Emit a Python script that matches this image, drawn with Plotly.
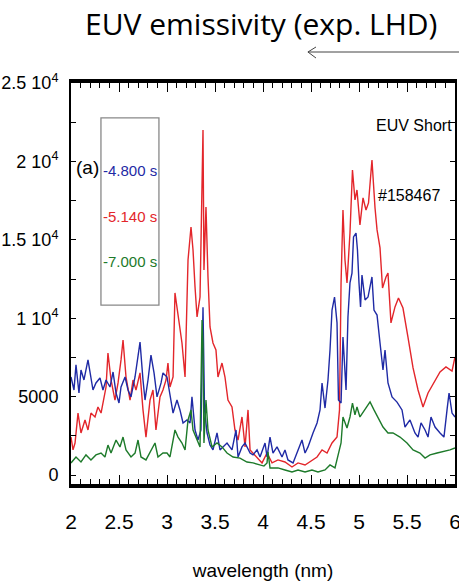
import plotly.graph_objects as go

# ---- spectra: wavelength (nm) and emissivity (a.u.) ----
wl_blue = [2.000, 2.031, 2.052, 2.083, 2.104, 2.135, 2.177, 2.208, 2.229, 2.260, 2.302, 2.333,
           2.365, 2.406, 2.438, 2.469, 2.500, 2.521, 2.563, 2.594, 2.625, 2.667, 2.719, 2.750,
           2.771, 2.802, 2.833, 2.865, 2.896, 2.938, 2.958, 3.000, 3.031, 3.063, 3.104, 3.135,
           3.167, 3.208, 3.240, 3.260, 3.292, 3.323, 3.354, 3.375, 3.391, 3.417, 3.448, 3.479,
           3.521, 3.552, 3.625, 3.677, 3.719, 3.740, 3.781, 3.813, 3.865, 3.896, 3.938, 3.969,
           4.021, 4.042, 4.073, 4.104, 4.146, 4.198, 4.229, 4.260, 4.313, 4.354, 4.406, 4.438,
           4.469, 4.521, 4.563, 4.594, 4.615, 4.646, 4.677, 4.698, 4.719, 4.745, 4.771, 4.786,
           4.813, 4.833, 4.865, 4.885, 4.906, 4.927, 4.943, 4.969, 4.984, 5.000, 5.016, 5.031,
           5.063, 5.094, 5.135, 5.156, 5.188, 5.219, 5.250, 5.271, 5.302, 5.344, 5.396, 5.448,
           5.479, 5.531, 5.583, 5.615, 5.646, 5.688, 5.719, 5.750, 5.792, 5.844, 5.885, 5.917,
           5.938, 5.969, 6.000]
em_blue = [6250, 5420, 7020, 5230, 6700, 6060, 7340, 6060, 5420, 5870, 6190, 5420,
           6060, 5610, 6570, 5230, 4590, 5610, 6250, 5420, 4980, 6250, 8480, 6060,
           4780, 6060, 7650, 6510, 4980, 5870, 6510, 6250, 4980, 3950, 4780, 4150,
           3320, 3510, 3320, 4980, 2870, 2230, 2870, 10700, 4150, 2680, 1910, 1600,
           2680, 1600, 2040, 1600, 2870, 1150, 1790, 2040, 1400, 1280, 1600, 1150,
           2040, 1150, 2420, 1400, 1790, 1150, 1600, 960, 770, 1400, 2230, 1400,
           1790, 2680, 3320, 4150, 5870, 4270, 6060, 7970, 10520, 11350, 9700, 4780,
           4590, 8800, 5420, 10080, 12250, 12880, 15180, 15430, 14350, 12250, 10720, 12750,
           11160, 11350, 12630, 10520, 10200, 8420, 6700, 7970, 5870, 4980, 4650, 4150,
           3060, 3510, 2680, 2420, 3320, 2870, 2420, 3700, 3060, 2680, 2420, 4150,
           5230, 3950, 3700]

wl_red = [2.000, 2.021, 2.042, 2.073, 2.104, 2.146, 2.177, 2.208, 2.250, 2.281, 2.313, 2.344,
          2.365, 2.385, 2.417, 2.458, 2.490, 2.521, 2.542, 2.573, 2.615, 2.646, 2.677, 2.719,
          2.750, 2.781, 2.823, 2.854, 2.885, 2.927, 2.958, 2.990, 3.010, 3.031, 3.063, 3.083,
          3.115, 3.156, 3.188, 3.219, 3.250, 3.271, 3.292, 3.313, 3.344, 3.365, 3.375, 3.385,
          3.406, 3.427, 3.448, 3.479, 3.510, 3.531, 3.573, 3.604, 3.635, 3.677, 3.708, 3.740,
          3.781, 3.813, 3.844, 3.865, 3.896, 3.938, 3.969, 3.990, 4.042, 4.094, 4.156, 4.229,
          4.302, 4.365, 4.438, 4.510, 4.563, 4.615, 4.667, 4.719, 4.771, 4.797, 4.813, 4.833,
          4.854, 4.875, 4.891, 4.906, 4.932, 4.958, 4.979, 5.010, 5.042, 5.073, 5.099, 5.135,
          5.167, 5.188, 5.219, 5.245, 5.281, 5.302, 5.333, 5.375, 5.411, 5.458, 5.510, 5.563,
          5.615, 5.667, 5.719, 5.781, 5.844, 5.906, 5.969, 6.000]
em_red = [2420, 1600, 2040, 3950, 2680, 3510, 2870, 3950, 3700, 4340, 3950, 4980,
          5610, 7780, 6060, 4780, 5870, 7340, 8610, 6250, 4780, 6060, 5420, 6510,
          4150, 2420, 4780, 5420, 2870, 4980, 5420, 6060, 7140, 5610, 6250, 11610,
          10080, 8420, 6250, 13710, 15820, 14350, 11990, 10080, 11350, 17990, 22000, 13080,
          17090, 12630, 9440, 8420, 7970, 6250, 7140, 6250, 4780, 4340, 2870, 2230,
          3700, 1790, 4150, 1600, 1400, 1150, 960, 770, 1400, 770, 960, 830,
          510, 770, 640, 960, 1150, 1600, 1400, 2040, 2420, 4150, 12250, 16900,
          13710, 12250, 13900, 15430, 19450, 17540, 18180, 15950, 17670, 16900, 17350, 20090,
          17030, 15630, 14480, 11930, 12630, 12880, 9700, 10720, 11290, 10650, 8800, 6830,
          5420, 4340, 5230, 5870, 6570, 6890, 6630, 7530]

wl_green = [2.000, 2.052, 2.104, 2.156, 2.208, 2.260, 2.313, 2.354, 2.385, 2.417, 2.469, 2.510,
            2.542, 2.573, 2.625, 2.667, 2.698, 2.729, 2.781, 2.833, 2.875, 2.906, 2.958, 3.000,
            3.031, 3.083, 3.115, 3.156, 3.188, 3.219, 3.250, 3.271, 3.313, 3.344, 3.365, 3.375,
            3.385, 3.406, 3.427, 3.469, 3.521, 3.573, 3.625, 3.688, 3.760, 3.833, 3.896, 3.969,
            4.010, 4.042, 4.052, 4.073, 4.156, 4.229, 4.302, 4.365, 4.438, 4.510, 4.573, 4.646,
            4.698, 4.750, 4.781, 4.813, 4.833, 4.875, 4.906, 4.932, 4.958, 4.979, 5.010, 5.063,
            5.115, 5.156, 5.198, 5.250, 5.302, 5.354, 5.427, 5.500, 5.563, 5.635, 5.688, 5.740,
            5.813, 5.875, 5.948, 6.000]
em_green = [770, 1150, 830, 1280, 960, 1280, 1400, 1150, 1910, 1400, 2230, 1790,
            2420, 1600, 1150, 1400, 2230, 1150, 960, 1600, 2040, 1150, 1400, 1400,
            1150, 2870, 2420, 2040, 1600, 3510, 4150, 2870, 2230, 1790, 9890, 8420,
            2040, 4780, 2870, 1790, 2040, 1790, 1400, 1150, 1080, 830, 770, 640,
            570, 770, 1470, 450, 450, 320, 190, 320, 190, 320, 190, 320,
            640, 450, 1150, 2040, 3700, 3000, 3700, 4590, 3830, 4340, 3700, 4150,
            4660, 4150, 3640, 3060, 2680, 2680, 2420, 2040, 1600, 1400, 1080, 1280,
            1400, 1470, 1600, 1720]

y_tick_vals = [0, 5000, 10000, 15000, 20000, 25000]
y_tick_text = ["0", "5000", "1 10<sup>4</sup>", "1.5 10<sup>4</sup>",
               "2 10<sup>4</sup>", "2.5 10<sup>4</sup>"]
x_tick_vals = [2, 2.5, 3, 3.5, 4, 4.5, 5, 5.5, 6]
x_tick_text = ["2", "2.5", "3", "3.5", "4", "4.5", "5", "5.5", "6"]

series = [
    ("5.140 s", wl_red, em_red, "#e3262b"),
    ("4.800 s", wl_blue, em_blue, "#1f2aa5"),
    ("7.000 s", wl_green, em_green, "#1d7a2a"),
]

SANS = "Liberation Sans, Arial, sans-serif"

fig = go.Figure()
for name, wl, em, col in series:
    fig.add_trace(go.Scatter(x=wl, y=em, mode="lines", name=name,
                             line=dict(color=col, width=1.4), showlegend=False))

fig.update_layout(
    width=459, height=587,
    margin=dict(l=71, r=4, t=83, b=103, autoexpand=False),
    paper_bgcolor="white", plot_bgcolor="white",
    font=dict(family=SANS, color="black"),
)

fig.update_xaxes(
    range=[2, 6], tickvals=x_tick_vals, ticktext=x_tick_text,
    ticks="inside", ticklen=9, tickwidth=1, tickcolor="black",
    minor=dict(dtick=0.1, tick0=2, ticks="inside", ticklen=5, tickcolor="black"),
    showline=True, linewidth=4, linecolor="black", mirror="ticks",
    showgrid=False, zeroline=False, automargin=False, ticklabeloverflow="allow",
    tickfont=dict(size=21, family=SANS), ticklabelstandoff=16,
    title=dict(text="wavelength (nm)", font=dict(size=19, family=SANS), standoff=32),
)
fig.update_yaxes(
    range=[-574, 25000], tickvals=y_tick_vals, ticktext=y_tick_text,
    ticks="inside", ticklen=5, tickwidth=1, tickcolor="black",
    minor=dict(dtick=2500, tick0=0, ticks="inside", ticklen=5, tickcolor="black"),
    showline=True, linewidth=2, linecolor="black", mirror="ticks",
    showgrid=False, zeroline=False, automargin=False, ticklabeloverflow="allow",
    tickfont=dict(size=18, family=SANS), ticklabelstandoff=7,
)

# legend box with coloured entries
fig.add_shape(type="rect", xref="paper", yref="paper",
              x0=0.078, x1=0.229, y0=0.446, y1=0.913,
              line=dict(color="#888888", width=1.3), fillcolor="rgba(0,0,0,0)")
legend_rows = [("-4.800 s", "#1f2aa5", 0.783), ("-5.140 s", "#e3262b", 0.666),
               ("-7.000 s", "#1d7a2a", 0.554)]
for txt, col, yy in legend_rows:
    fig.add_annotation(text=txt, xref="paper", yref="paper", x=0.153, y=yy,
                       xanchor="center", yanchor="middle", showarrow=False,
                       font=dict(size=15, color=col, family=SANS))

fig.add_annotation(text="(a)", xref="paper", yref="paper", x=0.008, y=0.790,
                   xanchor="left", yanchor="middle", showarrow=False,
                   font=dict(size=19, family=SANS))
fig.add_annotation(text="EUV Short", xref="paper", yref="paper", x=0.997, y=0.895,
                   xanchor="right", yanchor="middle", showarrow=False,
                   font=dict(size=16, family=SANS))
fig.add_annotation(text="#158467", xref="paper", yref="paper", x=0.967, y=0.72,
                   xanchor="right", yanchor="middle", showarrow=False,
                   font=dict(size=16, family=SANS))

# heading and direction arrow above the frame
fig.add_annotation(text="EUV emissivity (exp. LHD)", xref="paper", yref="paper",
                   x=0.495, y=1.149, xanchor="center", yanchor="middle", showarrow=False,
                   font=dict(size=30, family="Open Sans, Lato, sans-serif", color="black"))
arrow = dict(color="#444444", width=1)
fig.add_shape(type="line", xref="paper", yref="paper", x0=0.617, y0=1.0773, x1=1.012, y1=1.0773, line=arrow)
fig.add_shape(type="line", xref="paper", yref="paper", x0=0.617, y0=1.0773, x1=0.638, y1=1.0898, line=arrow)
fig.add_shape(type="line", xref="paper", yref="paper", x0=0.617, y0=1.0773, x1=0.638, y1=1.0623, line=arrow)

fig.write_html("out.html")
